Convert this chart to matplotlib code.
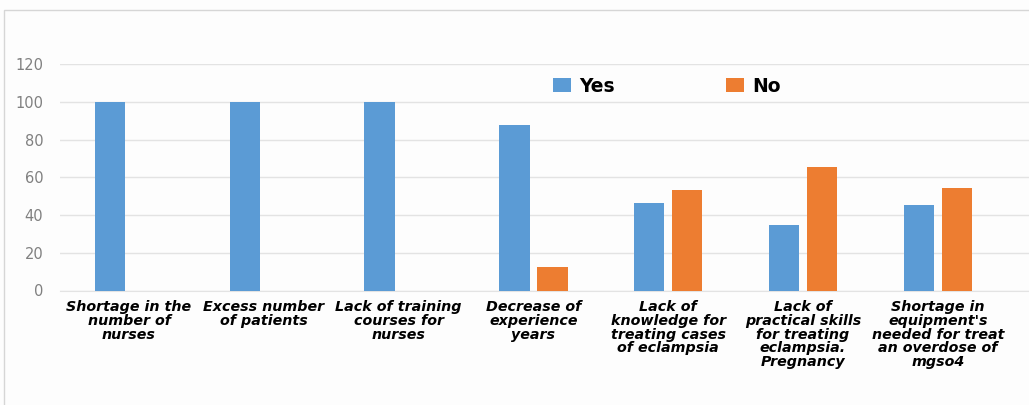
import matplotlib
matplotlib.use("Agg")
import matplotlib.pyplot as plt
from matplotlib.patches import Rectangle
import numpy as np

categories = [
    "Shortage in the\nnumber of\nnurses",
    "Excess number\nof patients",
    "Lack of training\ncourses for\nnurses",
    "Decrease of\nexperience\nyears",
    "Lack of\nknowledge for\ntreating cases\nof eclampsia",
    "Lack of\npractical skills\nfor treating\neclampsia.\nPregnancy",
    "Shortage in\nequipment's\nneeded for treat\nan overdose of\nmgso4",
]
yes_values = [100, 100, 100, 87.5, 46.5, 34.5, 45.5]
no_values = [0, 0, 0, 12.5, 53.5, 65.5, 54.5]
y_ticks = [0, 20, 40, 60, 80, 100, 120]

BLUE = "#5B9BD5"
ORANGE = "#ED7D31"

W, H = 1029, 405
fig = plt.figure(figsize=(W / 100, H / 100), dpi=100)
fig.patch.set_facecolor("#fdfdfd")

# axes in pixel coordinates
left_px, right_px = 60, 1029
top_px, bottom_px = 64, 290.5
ax = fig.add_axes([left_px / W, 1 - bottom_px / H, (right_px - left_px) / W, (bottom_px - top_px) / H])
ax.set_facecolor("#fdfdfd")

spacing = 134.8
c0 = 129
xl = (left_px - c0) / spacing
xr = (right_px - c0) / spacing
x = np.arange(len(categories))
bw = 0.226
off = 0.141
ax.bar(x - off, yes_values, bw, color=BLUE, label="Yes", zorder=3)
ax.bar(x + off, no_values, bw, color=ORANGE, label="No", zorder=3)

ax.set_xlim(xl, xr)
ax.set_ylim(0, 120)
ax.set_yticks(y_ticks)
ax.set_yticklabels([str(v) for v in y_ticks], color="#808080", fontsize=10.5)
ax.yaxis.grid(True, color="#e3e3e3", linewidth=1.0, zorder=0)
ax.tick_params(axis="y", length=0, pad=12)
ax.tick_params(axis="x", length=0, pad=7)
ax.set_xticks(x)
ax.set_xticklabels(categories, fontsize=10.3, fontweight="bold", fontstyle="italic",
                   family="DejaVu Sans", linespacing=0.97, color="black")
for s in ["top", "right", "left"]:
    ax.spines[s].set_visible(False)
ax.spines["bottom"].set_color("#e3e3e3")

leg = ax.legend(loc="center", bbox_to_anchor=((667 - left_px) / (right_px - left_px), 1 - (86 - top_px) / (bottom_px - top_px)),
                ncol=2, frameon=False, prop={"weight": "bold", "size": 13.5},
                handlelength=0.95, handleheight=0.7, handletextpad=0.45, columnspacing=5.9)

fig.add_artist(Rectangle((3.5 / W, -0.02), 1.1, 1 - 9.5 / H + 0.02, transform=fig.transFigure,
                         fill=False, edgecolor="#d6d6d6", linewidth=1.0))

fig.savefig("out.png", dpi=100, facecolor=fig.get_facecolor())
